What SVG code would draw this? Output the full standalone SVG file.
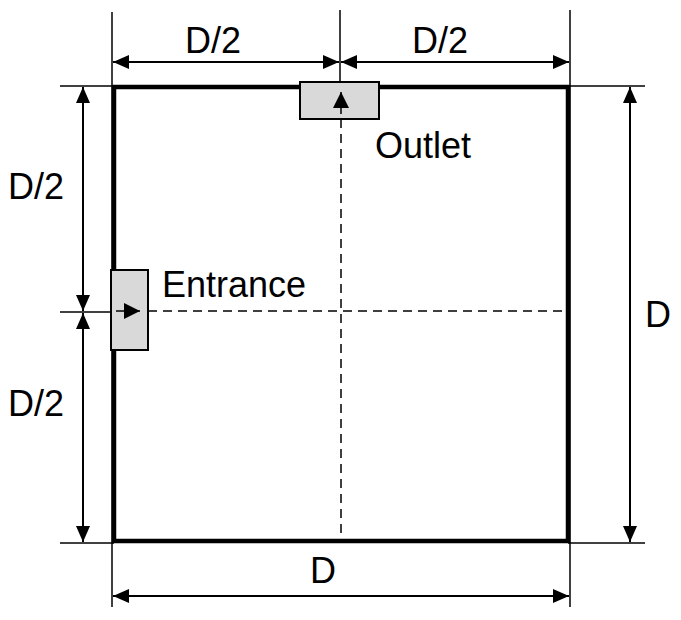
<svg xmlns="http://www.w3.org/2000/svg" width="681" height="620" viewBox="0 0 681 620">
<style>
.t{font-family:"Liberation Sans",Arial,sans-serif;font-size:36px;fill:#000}
.ext{stroke:#000;stroke-width:1.5;fill:none}
.dim{stroke:#000;stroke-width:2;fill:none;marker-start:url(#a);marker-end:url(#a)}
.dash{stroke:#000;stroke-width:1.5;stroke-dasharray:9,6;fill:none}
.port{fill:#d9d9d9;stroke:#000;stroke-width:2}
</style>
<defs>
<marker id="a" viewBox="0 0 10 10" refX="10" refY="5" markerWidth="16" markerHeight="14" markerUnits="userSpaceOnUse" orient="auto-start-reverse" preserveAspectRatio="none"><path d="M0,0L10,5L0,10z" fill="#000"/></marker>
<marker id="b" viewBox="0 0 10 10" refX="10" refY="5" markerWidth="16" markerHeight="16" markerUnits="userSpaceOnUse" orient="auto"><path d="M0,0L10,5L0,10z" fill="#000"/></marker>
</defs>
<g id="extensions">
<line class="ext" x1="112" y1="12" x2="112" y2="607"/>
<line class="ext" x1="340" y1="10" x2="340" y2="86"/>
<line class="ext" x1="570" y1="10" x2="570" y2="607"/>
<line class="ext" x1="60" y1="86" x2="114" y2="86"/>
<line class="ext" x1="568" y1="86" x2="645" y2="86"/>
<line class="ext" x1="60" y1="543" x2="114" y2="543"/>
<line class="ext" x1="568" y1="543" x2="645" y2="543"/>
<line class="ext" x1="60" y1="312" x2="112" y2="312"/>
</g>
<g id="room">
<rect x="114" y="87" width="454" height="454" fill="none" stroke="#000" stroke-width="4.5"/>
</g>
<g id="connectors">
<line class="dim" x1="113" y1="62" x2="339" y2="62"/>
<line class="dim" x1="341" y1="62" x2="569" y2="62"/>
<line class="dim" x1="83" y1="87" x2="83" y2="311"/>
<line class="dim" x1="83" y1="313" x2="83" y2="542"/>
<line class="dim" x1="630" y1="87" x2="630" y2="542"/>
<line class="dim" x1="113" y1="596" x2="569" y2="596"/>
<line class="dash" x1="341" y1="119" x2="341" y2="541"/>
<line class="dash" x1="148" y1="311" x2="568" y2="311"/>
</g>
<g id="outlet">
<rect class="port" x="300" y="82" width="79" height="37"/>
<line x1="341" y1="114" x2="341" y2="92" stroke="#000" stroke-width="1.5" marker-end="url(#b)"/>
<text class="t" x="375" y="158">Outlet</text>
</g>
<g id="entrance">
<rect class="port" x="111" y="270" width="37" height="80"/>
<line x1="116" y1="311" x2="140" y2="311" stroke="#000" stroke-width="1.5" marker-end="url(#b)"/>
<text class="t" x="162" y="297">Entrance</text>
</g>
<g id="labels">
<text class="t" x="185" y="53">D/2</text>
<text class="t" x="412" y="53">D/2</text>
<text class="t" x="8" y="199">D/2</text>
<text class="t" x="8" y="416">D/2</text>
<text class="t" x="645" y="327">D</text>
<text class="t" x="310" y="583">D</text>
</g>
</svg>
